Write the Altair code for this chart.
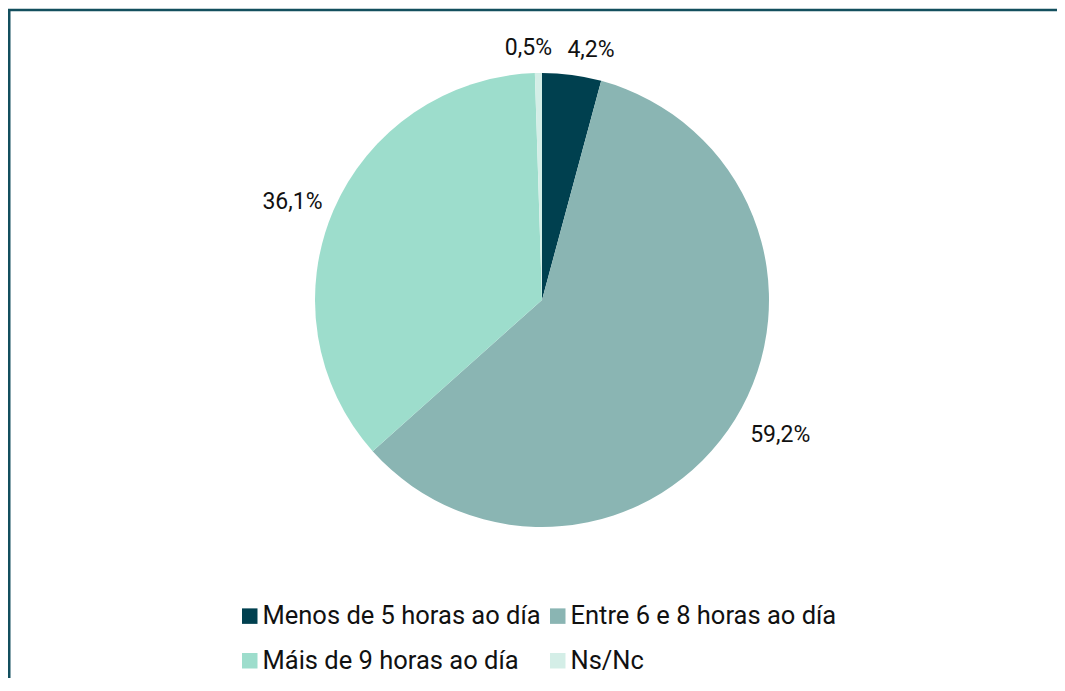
import altair as alt
import pandas as pd

categories = ["Menos de 5 horas ao día", "Entre 6 e 8 horas ao día", "Máis de 9 horas ao día", "Ns/Nc"]
values = [4.2, 59.2, 36.1, 0.5]
labels = ["4,2%", "59,2%", "36,1%", "0,5%"]
colors = ["#00404F", "#8AB5B3", "#9DDDCC", "#D4EEE7"]
order = [0, 1, 2, 3]
left_side = ["Máis de 9 horas ao día", "Ns/Nc"]

df = pd.DataFrame({"cat": categories, "val": values, "label": labels, "ord": order})

W, H = 1049, 670
CX, CY = 534, 292

pie = alt.Chart(df).mark_arc(outerRadius=227, x=CX, y=CY).encode(
    theta=alt.Theta("val:Q", stack=True),
    order=alt.Order("ord:Q"),
    color=alt.Color(
        "cat:N",
        scale=alt.Scale(domain=categories, range=colors),
        legend=alt.Legend(
            orient="none", legendX=229, legendY=595, columns=2, direction="horizontal",
            title=None, symbolType="square", symbolSize=240, symbolStrokeWidth=0,
            labelFontSize=25.5, labelFont="Roboto", labelColor="#111111",
            labelLimit=600, rowPadding=18, columnPadding=4, labelOffset=0,
        ),
    ),
)

lab_base = alt.Chart(df).transform_window(
    cum="sum(val)", sort=[alt.SortField("ord")], frame=[None, 0]
).transform_calculate(mid="datum.cum - datum.val / 2")

txt_right = lab_base.transform_filter(
    ~alt.FieldOneOfPredicate(field="cat", oneOf=left_side)
).mark_text(
    radius=254, x=CX, y=CY, align="left", baseline="middle", dx=-8, dy=2,
    fontSize=23, font="Roboto", color="#111111"
).encode(theta=alt.Theta("mid:Q", stack=None), text="label:N")

txt_left = lab_base.transform_filter(
    alt.FieldOneOfPredicate(field="cat", oneOf=left_side)
).mark_text(
    radius=254, x=CX, y=CY, align="right", baseline="middle", dx=14, dy=2,
    fontSize=23, font="Roboto", color="#111111"
).encode(theta=alt.Theta("mid:Q", stack=None), text="label:N")

frame = alt.Chart(pd.DataFrame({"k": [0]})).mark_rect(
    filled=False, stroke="#134F5E", strokeWidth=2.5
).encode(
    x=alt.value(1.25), x2=alt.value(W + 20), y=alt.value(2), y2=alt.value(H + 40)
)

chart = alt.layer(frame, pie, txt_right, txt_left).properties(
    width=W, height=H, padding=0, autosize="none", background="white"
).configure_view(stroke=None)

chart.save("out.html", embed_options={"renderer": "svg", "actions": False})
